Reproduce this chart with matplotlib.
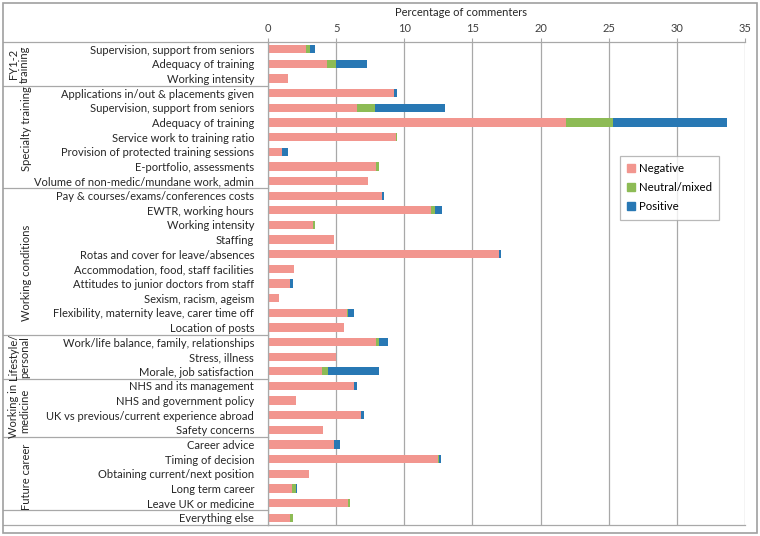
import matplotlib.pyplot as plt
import numpy as np
from matplotlib.patches import Rectangle, Patch
from matplotlib.transforms import blended_transform_factory

# categories top to bottom
labels = [
    "Supervision, support from seniors", "Adequacy of training", "Working intensity",
    "Applications in/out & placements given", "Supervision, support from seniors",
    "Adequacy of training", "Service work to training ratio",
    "Provision of protected training sessions", "E-portfolio, assessments",
    "Volume of non-medic/mundane work, admin",
    "Pay & courses/exams/conferences costs", "EWTR, working hours", "Working intensity",
    "Staffing", "Rotas and cover for leave/absences", "Accommodation, food, staff facilities",
    "Attitudes to junior doctors from staff", "Sexism, racism, ageism",
    "Flexibility, maternity leave, carer time off", "Location of posts",
    "Work/life balance, family, relationships", "Stress, illness", "Morale, job satisfaction",
    "NHS and its management", "NHS and government policy",
    "UK vs previous/current experience abroad", "Safety concerns",
    "Career advice", "Timing of decision", "Obtaining current/next position",
    "Long term career", "Leave UK or medicine",
    "Everything else",
]
negative = [2.82, 4.31, 1.47, 9.22, 6.52, 21.84, 9.41, 1.0, 7.92, 7.35,
            8.36, 11.99, 3.28, 4.83, 16.94, 1.91, 1.64, 0.78, 5.81, 5.54,
            7.92, 4.98, 3.95, 6.32, 2.03, 6.79, 4.07,
            4.83, 12.48, 3.04, 1.76, 5.88, 1.59]
neutral = [0.29, 0.69, 0, 0, 1.30, 3.50, 0.09, 0, 0.22, 0,
           0, 0.24, 0.20, 0, 0, 0, 0, 0, 0.07, 0,
           0.24, 0, 0.44, 0, 0, 0, 0,
           0, 0.07, 0, 0.27, 0.12, 0.22]
positive = [0.37, 2.23, 0, 0.27, 5.17, 8.36, 0, 0.47, 0, 0,
            0.12, 0.56, 0, 0, 0.12, 0, 0.17, 0, 0.44, 0,
            0.64, 0, 3.75, 0.22, 0, 0.22, 0,
            0.46, 0.12, 0, 0.10, 0, 0]
groups = ["FY1-2\ntraining", "Specialty training", "Working conditions",
          "Lifestyle/\npersonal", "Working in\nmedicine", "Future career", ""]
group_sizes = [3, 7, 10, 3, 4, 5, 1]

c_neg, c_neu, c_pos = "#F2968F", "#8DBB55", "#2878B4"
grid_c = "#A8A8A8"
txt_c = "#262626"
plt.rcParams['font.family'] = ['Lato', 'DejaVu Sans']
fs = 8.0

W, H = 760, 536
fig = plt.figure(figsize=(W / 100, H / 100), dpi=100)
ax = fig.add_axes([268 / W, 1 - 525 / H, (745 - 268) / W, (525 - 42) / H])

y = np.arange(len(labels))
neg = np.array(negative)
neu = np.array(neutral)
pos = np.array(positive)
bh = 0.56
ax.barh(y, neg, height=bh, color=c_neg, label="Negative")
ax.barh(y, neu, left=neg, height=bh, color=c_neu, label="Neutral/mixed")
ax.barh(y, pos, left=neg + neu, height=bh, color=c_pos, label="Positive")

ax.set_xlim(0, 35)
ax.set_ylim(len(labels) - 0.5, -0.5)
ax.set_xticks(range(0, 36, 5))
ax.xaxis.tick_top()
ax.tick_params(axis='x', length=3, color=grid_c, labelsize=fs, pad=2.5, labelcolor="#404040")
ax.set_yticks(y)
ax.set_yticklabels(labels, fontsize=fs, color=txt_c)
ax.tick_params(axis='y', length=0, pad=10)
ax.grid(axis='x', color=grid_c, lw=0.9)
ax.set_axisbelow(True)
ax.spines['right'].set_visible(False)
for s in ['top', 'left', 'bottom']:
    ax.spines[s].set_color(grid_c)
    ax.spines[s].set_linewidth(0.9)

fig.text(461 / W, 1 - 13 / H, "Percentage of commenters", ha='center', va='center',
         fontsize=fs, color=txt_c)

# category table separators and group labels
tr = blended_transform_factory(fig.transFigure, ax.transData)
bounds = np.concatenate([[0], np.cumsum(group_sizes)]) - 0.5
for b in bounds:
    ax.plot([3 / W, 268 / W], [b, b], transform=tr, color=grid_c, lw=0.9, clip_on=False)
centers = [1.0, 5.4, 15.3, 21.0, 24.7, 29.2, 32]
for g, c in zip(groups, centers):
    if g:
        x = 27 / W if "\n" not in g else 19 / W
        ax.text(x, c, g, transform=tr, rotation=90, ha='center', va='center',
                fontsize=fs, color=txt_c, linespacing=1.05, multialignment='center')

# outer frame
fig.add_artist(Rectangle((3 / W, 3 / H), 754 / W, 530 / H, transform=fig.transFigure,
                         fill=False, edgecolor="#A0A0A0", lw=1.2))

handles = [Patch(color=c_neg, label="Negative"), Patch(color=c_neu, label="Neutral/mixed"),
           Patch(color=c_pos, label="Positive")]
leg = fig.legend(handles=handles, loc='upper left', bbox_to_anchor=(620 / W, 1 - 156 / H),
                 fontsize=fs + 0.2, frameon=True, fancybox=False, handlelength=0.7,
                 handleheight=0.7, handletextpad=0.3, labelspacing=0.7, borderpad=0.65,
                 borderaxespad=0)
leg.get_frame().set_edgecolor("#A8A8A8")
leg.get_frame().set_linewidth(0.9)

fig.savefig("out.png", dpi=100)
